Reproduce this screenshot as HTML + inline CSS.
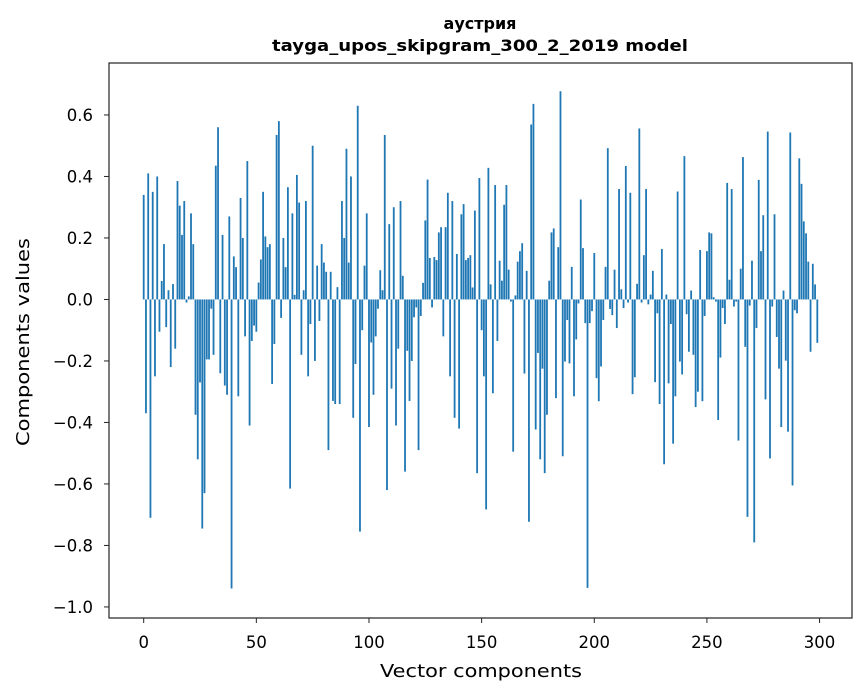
<!DOCTYPE html>
<html><head><meta charset="utf-8"><style>
body{margin:0;background:#fff;}
svg{display:block;font-family:"DejaVu Sans","Liberation Sans",sans-serif;}
</style></head><body>
<svg id="chart" width="867" height="696" xmlns="http://www.w3.org/2000/svg">
<text x="480" y="29" text-anchor="middle" font-size="16" font-weight="bold">аустрия</text>
<text x="480" y="51" text-anchor="middle" font-size="16" font-weight="bold" textLength="416" lengthAdjust="spacingAndGlyphs">tayga_upos_skipgram_300_2_2019 model</text>
<g id="bars"></g>
<g id="axes"></g>
<text x="481" y="677" text-anchor="middle" font-size="18" textLength="202" lengthAdjust="spacingAndGlyphs">Vector components</text>
<text transform="translate(29,342) rotate(-90)" text-anchor="middle" font-size="18" textLength="208" lengthAdjust="spacingAndGlyphs">Components values</text>
</svg>
<script>
const values=[0.34,-0.37,0.41,-0.71,0.35,-0.25,0.40,-0.105,0.06,0.18,-0.09,0.03,-0.22,0.05,-0.16,0.385,0.305,0.21,0.32,-0.01,0.01,0.28,0.18,-0.375,-0.52,-0.27,-0.745,-0.63,-0.195,-0.195,-0.03,-0.18,0.435,0.56,-0.24,0.21,-0.28,-0.31,0.27,-0.94,0.14,0.105,-0.315,0.33,0.20,-0.12,0.45,-0.41,-0.135,-0.085,
-0.105,0.055,0.13,0.35,0.205,0.17,0.18,-0.275,-0.145,0.535,0.58,-0.06,0.20,0.105,0.365,-0.615,0.28,0.015,0.405,0.315,-0.18,0.03,0.32,-0.25,-0.08,0.50,-0.20,0.11,-0.07,0.18,0.12,0.09,-0.49,0.09,-0.33,-0.34,0.04,-0.34,0.32,0.20,0.49,0.12,0.40,-0.385,-0.21,0.63,-0.755,-0.10,0.11,0.28,
-0.415,-0.14,-0.31,-0.12,-0.03,0.095,0.03,0.535,-0.62,0.245,-0.29,0.30,-0.41,-0.16,0.32,0.077,-0.56,-0.167,-0.33,-0.2,-0.058,-0.026,-0.49,-0.054,0.054,0.257,0.39,0.135,-0.026,0.138,0.128,0.218,0.235,-0.12,0.235,0.347,-0.25,0.32,-0.385,0.148,-0.42,0.277,0.31,0.128,0.135,0.144,0.039,0.289,-0.565,0.395,
-0.10,-0.25,-0.683,0.428,0.049,-0.305,0.372,-0.135,0.126,0.061,0.308,0.372,0.097,-0.007,-0.495,0.013,0.123,0.157,0.183,-0.241,0.093,-0.723,0.569,0.636,-0.423,-0.174,-0.52,-0.225,-0.565,-0.375,0.061,0.218,0.231,-0.321,0.17,0.677,-0.51,-0.202,-0.067,-0.208,0.106,-0.315,-0.13,-0.013,0.325,0.167,-0.077,-0.938,-0.077,-0.038,
0.151,-0.256,-0.331,-0.218,-0.067,0.106,0.492,-0.031,-0.051,0.097,-0.093,0.359,0.033,-0.028,0.434,-0.01,0.347,-0.308,-0.253,0.051,0.556,-0.01,0.144,0.359,-0.016,0.016,0.093,-0.269,-0.045,-0.34,0.164,-0.536,0.016,-0.273,-0.08,-0.469,-0.315,0.351,-0.202,-0.244,0.466,-0.048,-0.17,0.029,-0.18,-0.35,-0.3,0.161,-0.331,-0.054,
0.157,0.218,0.215,0.007,-0.007,-0.392,-0.189,-0.028,-0.08,0.379,0.064,0.359,-0.023,-0.007,-0.459,0.1,0.463,-0.154,-0.707,-0.02,0.126,-0.79,-0.093,0.389,0.157,0.274,-0.325,0.546,-0.517,-0.023,0.277,-0.122,-0.225,-0.415,0.029,-0.199,-0.43,0.543,-0.605,-0.035,-0.045,0.459,0.376,0.254,0.215,0.123,-0.17,0.116,0.049,-0.141];
const xTicks=[0,50,100,150,200,250,300];
const yTicks=[0.6,0.4,0.2,0.0,-0.2,-0.4,-0.6,-0.8,-1.0];
const yTickLabels=["0.6","0.4","0.2","0.0","\u22120.2","\u22120.4","\u22120.6","\u22120.8","\u22121.0"];
const L=109,R=852,T=63,B=618;
const xMin=-15.4,xMax=314.4,yMin=-1.036,yMax=0.769;
const xs=v=>L+(v-xMin)/(xMax-xMin)*(R-L);
const ys=v=>B-(v-yMin)/(yMax-yMin)*(B-T);
const NS="http://www.w3.org/2000/svg";
const bars=document.getElementById('bars');
values.forEach((v,i)=>{
  const r=document.createElementNS(NS,'rect');
  const x0=xs(i-0.4),x1=xs(i+0.4),y0=ys(Math.max(v,0)),y1=ys(Math.min(v,0));
  r.setAttribute('x',x0);r.setAttribute('width',x1-x0);
  r.setAttribute('y',y0);r.setAttribute('height',Math.max(y1-y0,0.3));
  r.setAttribute('fill','#1f77b4');
  
  
  bars.appendChild(r);
});
const ax=document.getElementById('axes');
ax.innerHTML='<rect x="'+L+'" y="'+T+'" width="'+(R-L)+'" height="'+(B-T)+'" fill="none" stroke="#222" stroke-width="1.2"/>';
xTicks.forEach(t=>{
  const l=document.createElementNS(NS,'line');
  l.setAttribute('x1',xs(t));l.setAttribute('x2',xs(t));l.setAttribute('y1',B);l.setAttribute('y2',B+5);l.setAttribute('stroke','#222');
  
  
  ax.appendChild(l);
  const tx=document.createElementNS(NS,'text');
  tx.setAttribute('x',xs(t));tx.setAttribute('y',B+30);tx.setAttribute('text-anchor','middle');tx.setAttribute('font-size','16.5');
  tx.textContent=t;
  
  
  ax.appendChild(tx);
});
yTicks.forEach((t,k)=>{
  const l=document.createElementNS(NS,'line');
  l.setAttribute('x1',L-5);l.setAttribute('x2',L);l.setAttribute('y1',ys(t));l.setAttribute('y2',ys(t));l.setAttribute('stroke','#222');
  
  
  ax.appendChild(l);
  const tx=document.createElementNS(NS,'text');
  tx.setAttribute('x',L-16);tx.setAttribute('y',ys(t)+6);tx.setAttribute('text-anchor','end');tx.setAttribute('font-size','16.5');
  tx.textContent=yTickLabels[k];
  
  
  ax.appendChild(tx);
});
</script>
</body></html>
